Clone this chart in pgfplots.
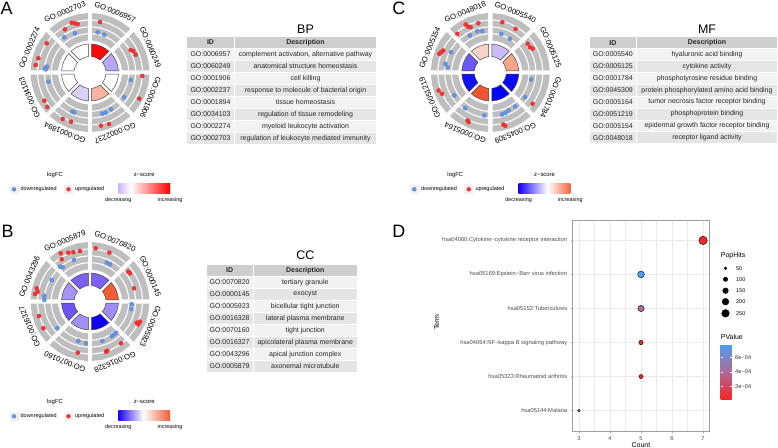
\documentclass[border=0pt]{standalone}
\usepackage{pgfplots}
\pgfplotsset{compat=1.18}
\usepackage{pgfplotstable}
\usepackage{fontspec}
\setmainfont{Liberation Sans}

\definecolor{upred}{HTML}{FF3030}
\definecolor{downblue}{HTML}{6495ED}
\definecolor{ringgray}{HTML}{BEBEBE}
\definecolor{hdr}{HTML}{CECECE}
\definecolor{rowA}{HTML}{F2F2F2}
\definecolor{rowB}{HTML}{E5E5E5}
\definecolor{keybg}{HTML}{F0F0F0}
\definecolor{gridc}{HTML}{EBEBEB}
\definecolor{framec}{HTML}{A0A0A0}
\definecolor{tickc}{HTML}{4D4D4D}
% z-score fills, segment by segment
\definecolor{zA0}{HTML}{F50A0A}
\definecolor{zA1}{HTML}{B9A4F6}
\definecolor{zA3}{HTML}{F8B4A0}
\definecolor{zA4}{HTML}{DBCEF8}
\definecolor{zB0}{HTML}{7B61F5}
\definecolor{zB1}{HTML}{F25C36}
\definecolor{zB2}{HTML}{A18CF7}
\definecolor{zB3}{HTML}{1000F2}
\definecolor{zB4}{HTML}{A38FF7}
\definecolor{zB5}{HTML}{6E53F3}
\definecolor{zB6}{HTML}{A693F7}
\definecolor{zB7}{HTML}{7B60F4}
\definecolor{zC0}{HTML}{CBB9F8}
\definecolor{zC1}{HTML}{F6A589}
\definecolor{zC2}{HTML}{0A0AF5}
\definecolor{zC3}{HTML}{0505F5}
\definecolor{zC4}{HTML}{F45430}
\definecolor{zC5}{HTML}{1010F5}
\definecolor{zC6}{HTML}{6C58F4}
\definecolor{zC7}{HTML}{F8D2C6}
\definecolor{zlav}{HTML}{C9B6F6}
\definecolor{zredA}{HTML}{FF0000}
\definecolor{zblue}{HTML}{1800FF}
\definecolor{zorB}{HTML}{F35B35}
\definecolor{zorC}{HTML}{F4643F}

\pgfdeclarehorizontalshading{zgradA}{100bp}{color(0bp)=(zlav); color(25bp)=(zlav); color(37bp)=(white); color(75bp)=(zredA); color(100bp)=(zredA)}
\pgfdeclarehorizontalshading{zgradB}{100bp}{color(0bp)=(zblue); color(25bp)=(zblue); color(49bp)=(white); color(75bp)=(zorB); color(100bp)=(zorB)}
\pgfdeclarehorizontalshading{zgradC}{100bp}{color(0bp)=(zblue); color(25bp)=(zblue); color(53bp)=(white); color(75bp)=(zorC); color(100bp)=(zorC)}

\newcommand\fs[1]{\fontsize{#1}{#1}\selectfont}

% outline of one ring piece: t runs along the arc, s across it
\pgfplotstableread{
t s
0 0
0 1
0.25 1
0.5 1
0.75 1
1 1
1 0
0.75 0
0.5 0
0.25 0
0 0
}\sectortab
\pgfplotstableread{
t s
0 0
0.25 0
0.5 0
0.75 0
1 0
}\arctab

% angles in degrees clockwise from the top, radii in bp
% #1 #2 angles, #3 #4 radii, #5 half gap, #6 style
\newcommand\sector[6]{%
  \addplot[#6] table[
    x expr={(#3+\thisrow{s}*(#4-#3))*sin(#1+\thisrow{t}*(#2-(#1))+(1-2*\thisrow{t})*asin(#5/(#3+\thisrow{s}*(#4-#3))))},
    y expr={(#3+\thisrow{s}*(#4-#3))*cos(#1+\thisrow{t}*(#2-(#1))+(1-2*\thisrow{t})*asin(#5/(#3+\thisrow{s}*(#4-#3))))}] {\sectortab};}
\newcommand\arcline[4]{%
  \addplot[draw=white, line width=1.1pt] table[
    x expr={#3*sin(#1+\thisrow{t}*(#2-(#1))+(1-2*\thisrow{t})*asin(#4/#3))},
    y expr={#3*cos(#1+\thisrow{t}*(#2-(#1))+(1-2*\thisrow{t})*asin(#4/#3))}] {\arctab};}
\newcommand\segment[3]{%
  \sector{#1}{#2}{32}{59.5}{2.2}{fill=ringgray, draw=none}
  \arcline{#1}{#2}{38.9}{2.2}
  \arcline{#1}{#2}{45.7}{2.2}
  \arcline{#1}{#2}{52.6}{2.2}
  \sector{#1}{#2}{16}{28.5}{1.6}{fill=#3, draw=black!75, line width=0.45pt}}
\newcommand\gosegments[8]{%
  \segment{0}{45}{#1}\segment{45}{90}{#2}\segment{90}{135}{#3}\segment{135}{180}{#4}
  \segment{180}{225}{#5}\segment{225}{270}{#6}\segment{270}{315}{#7}\segment{315}{360}{#8}}
% logFC points of one circle: #1 table, #2 style
\newcommand\ondots[2]{%
  \addplot[#2] table[x expr={\thisrow{r}*sin(\thisrow{a})}, y expr={\thisrow{r}*cos(\thisrow{a})}] {#1};}
% labels on a circle of radius 65.5 at the middle of each piece
\newcommand\golabels[8]{%
  \node[glab, rotate=-22.5] at (axis cs:25.07,60.51) {#1};
  \node[glab, rotate=-67.5] at (axis cs:60.51,25.07) {#2};
  \node[glab, rotate=-112.5] at (axis cs:60.51,-25.07) {#3};
  \node[glab, rotate=-157.5] at (axis cs:25.07,-60.51) {#4};
  \node[glab, rotate=157.5] at (axis cs:-25.07,-60.51) {#5};
  \node[glab, rotate=112.5] at (axis cs:-60.51,-25.07) {#6};
  \node[glab, rotate=67.5] at (axis cs:-60.51,25.07) {#7};
  \node[glab, rotate=22.5] at (axis cs:-25.07,60.51) {#8};}

% table: #1 left, #2 column split, #3 right, #4 top, #5 row height, #6 id/description rows
\newcommand\gotable[6]{%
  \filldraw[fill=hdr, draw=white, line width=0.9pt] (#1,#4) rectangle (#2,#4+#5);
  \filldraw[fill=hdr, draw=white, line width=0.9pt] (#2,#4) rectangle (#3,#4+#5);
  \node[font=\fs{7}\bfseries, text=black!85] at ({(#1+#2)/2},#4+#5/2) {ID};
  \node[font=\fs{7}\bfseries, text=black!85] at ({(#2+#3)/2},#4+#5/2) {Description};
  \foreach \id/\desc [count=\i] in {#6} {
    \ifodd\i \def\rc{rowA}\else\def\rc{rowB}\fi
    \filldraw[fill=\rc, draw=white, line width=0.9pt] (#1,{#4+\i*#5}) rectangle (#2,{#4+(\i+1)*#5});
    \filldraw[fill=\rc, draw=white, line width=0.9pt] (#2,{#4+\i*#5}) rectangle (#3,{#4+(\i+1)*#5});
    \node[font=\fs{7}, text=black!85] at ({(#1+#2)/2},{#4+(\i+0.5)*#5}) {\id};
    \node[font=\fs{7}, text=black!85] at ({(#2+#3)/2},{#4+(\i+0.5)*#5}) {\desc};
  }}
% legend under a circle: #1 x shift, #2 y shift, #3 shading
\newcommand\golegend[3]{%
  \begin{scope}[xshift=#1bp, yshift=-#2bp]
    \node[font=\fs{5.9}] at (55,175) {logFC};
    \fill[keybg] (9.5,185) rectangle (18.5,193.6);
    \fill[keybg] (64,185) rectangle (73,193.6);
    \node[font=\fs{5.5}, anchor=west] at (20.5,189.3) {downregulated};
    \node[font=\fs{5.5}, anchor=west] at (75,189.3) {upregulated};
    \node[font=\fs{5.9}] at (144.2,175) {z−score};
    \shade[shading=#3] (118.3,183.5) rectangle (170,194);
    \node[font=\fs{5.4}] at (118.3,200.3) {decreasing};
    \node[font=\fs{5.4}] at (170,200.3) {increasing};
  \end{scope}}

\tikzset{glab/.style={font=\fs{7.7}, inner sep=0pt}}
\pgfplotsset{
  updots/.style={only marks, mark=*, mark size=2.1, draw=upred!80!black, fill=upred, line width=0.2pt},
  downdots/.style={only marks, mark=*, mark size=2.1, draw=downblue!80!black, fill=downblue, line width=0.2pt},
  circ/.style={anchor=center, scale only axis, width=160bp, height=160bp,
    xmin=-80, xmax=80, ymin=-80, ymax=80, hide axis, clip=false},
}

% logFC points: angle clockwise from the top, radius
\pgfplotstableread{
a r
11.2 51.5
61.1 46.5
63.6 48.3
68.7 49
93.8 52.4
118 55.8
168.3 54.3
159.8 54.9
210.4 53.9
201.1 52.7
238.3 53.7
231.1 54.9
304 52.2
285.4 53.6
277.9 54.8
339.8 53
343 51.4
345.8 50
330 49.9
}\Aup
\pgfplotstableread{
a r
10.8 40.9
20.7 40.4
100.4 41.4
126.1 42.1
163.4 43
158.7 43.2
150.3 42.4
204.3 43
201.5 42.8
257.6 42.7
275.3 45.2
277.6 43.7
274 44.4
323.9 43.6
339 42
}\Adown
\pgfplotstableread{
a r
6.1 53.5
21.6 52.5
52.1 48.5
54.8 48.9
73.3 45.9
114.4 51.3
115.3 53.4
112 53.9
143.4 52
162.3 52.7
160.6 52.2
193.5 52.6
254.1 53
240.1 53.8
283.9 54.9
280.6 53.2
277.8 55.5
328.7 56.4
336 53.4
341.3 52
348.8 51.5
326.2 50.8
}\Bup
\pgfplotstableread{
a r
23.3 42.3
28.3 42.2
93.5 41.7
100.4 41.7
147.8 40.8
143.5 40.8
140.2 40.6
162.7 41.4
196.5 41.2
185.5 42
230.7 42.3
299.3 43.9
277.2 46
271.9 45.7
338.9 44.5
319.2 46
321.4 43.8
}\Bdown
\pgfplotstableread{
a r
332.8 54
334.1 51.1
336.5 49.4
346.3 50.7
319.5 50.9
13.4 51.7
30.1 50.5
52.4 47
57.5 47.1
60.7 48.5
126.5 52.6
166 53.6
164.3 55.4
205.3 53.1
203.6 54.2
250.8 54.7
246.2 52.8
290.1 54.3
292.4 53.3
295 51.9
}\Cup
\pgfplotstableread{
a r
331.2 42.2
342.5 43.3
349 42.1
15.9 40.2
30.3 39
99.8 41.3
125.4 42.6
164.4 43.6
159.8 43.4
154.3 42.2
143.7 42.2
215 43.6
188 43.4
237.4 42.7
297.3 44.2
280.9 45.8
277 43
}\Cdown

% KEGG terms, bottom to top
\pgfplotstableread{
row count hits p
6 7 294 2.9e-5
5 5 201 7.8e-4
4 5 180 4.4e-4
3 5 104 4.0e-5
2 5 91 6.0e-5
1 3 49 7.5e-4
}\kegg

\begin{document}
\begin{tikzpicture}
\useasboundingbox (0,0) rectangle (778bp,448bp);

\begin{scope}[x=1bp, y=-1bp, yshift=448bp, every node/.style={inner sep=0pt}]
  \node[font=\fs{18}] at (6.7,8.3) {A};
  \node[font=\fs{18}] at (7.5,231.7) {B};
  \node[font=\fs{18}] at (398.8,8.3) {C};
  \node[font=\fs{18}] at (398.8,231.7) {D};

  \node[font=\fs{12.5}] at (305.5,29) {BP};
  \gotable{186.7}{234.3}{376.7}{36.3}{12}{GO:0006957/{complement activation, alternative pathway}, GO:0060249/anatomical structure homeostasis, GO:0001906/cell killing, GO:0002237/response to molecule of bacterial origin, GO:0001894/tissue homeostasis, GO:0034103/regulation of tissue remodeling, GO:0002274/myeloid leukocyte activation, GO:0002703/regulation of leukocyte mediated immunity}
  \node[font=\fs{12.5}] at (305.3,255) {CC};
  \gotable{206}{253.3}{357.3}{264.3}{12}{GO:0070820/tertiary granule, GO:0000145/exocyst, GO:0005923/bicellular tight junction, GO:0016328/lateral plasma membrane, GO:0070160/tight junction, GO:0016327/apicolateral plasma membrane, GO:0043296/apical junction complex, GO:0005879/axonemal microtubule}
  \node[font=\fs{12.5}] at (707,29) {MF};
  \gotable{589}{636.7}{777.3}{36.7}{11.9}{GO:0005540/hyaluronic acid binding, GO:0005125/cytokine activity, GO:0001784/phosphotyrosine residue binding, GO:0045309/protein phosphorylated amino acid binding, GO:0005164/tumor necrosis factor receptor binding, GO:0051219/phosphoprotein binding, GO:0005154/epidermal growth factor receptor binding, GO:0048018/receptor ligand activity}

  \golegend{0}{0}{zgradA}
  \golegend{0}{227}{zgradB}
  \golegend{400.3}{0}{zgradC}

  \node[font=\fs{7}, rotate=90] at (436.7,322) {Term};
  \node[font=\fs{7}] at (641,445) {Count};
  \node[font=\fs{7}, anchor=west] at (720.7,255.7) {PopHits};
  \node[font=\fs{7}, anchor=west] at (720.7,337.3) {PValue};
  \node[font=\fs{5.5}, anchor=west] at (736,268.3) {50};
  \node[font=\fs{5.5}, anchor=west] at (736,279.3) {100};
  \node[font=\fs{5.5}, anchor=west] at (736,290.7) {150};
  \node[font=\fs{5.5}, anchor=west] at (736,301.7) {200};
  \node[font=\fs{5.5}, anchor=west] at (736,313.3) {250};
\end{scope}

% legend keys, in picture pixels
\begin{axis}[at={(0bp,0bp)}, anchor=south west, scale only axis, width=778bp, height=448bp,
  xmin=0, xmax=778, ymin=0, ymax=448, y dir=reverse, hide axis, clip=false]
  \addplot[downdots, mark size=2] coordinates {(14,189.3) (414.3,189.3) (14,416.3)};
  \addplot[updots, mark size=2] coordinates {(68.5,189.3) (468.8,189.3) (68.5,416.3)};
  \addplot[only marks, mark=*, black, mark size=1.35] coordinates {(725.5,268.3)};
  \addplot[only marks, mark=*, black, mark size=2.19] coordinates {(725.5,279.3)};
  \addplot[only marks, mark=*, black, mark size=2.83] coordinates {(725.5,290.7)};
  \addplot[only marks, mark=*, black, mark size=3.37] coordinates {(725.5,301.7)};
  \addplot[only marks, mark=*, black, mark size=3.85] coordinates {(725.5,313.3)};
\end{axis}

% A: BP
\begin{axis}[circ, at={(90bp,375.5bp)}]
  \gosegments{zA0}{zA1}{white}{zA3}{zA4}{white}{white}{white}
  \ondots{\Adown}{downdots}
  \ondots{\Aup}{updots}
  \golabels{GO:0006957}{GO:0060249}{GO:0001906}{GO:0002237}{GO:0001894}{GO:0034103}{GO:0002274}{GO:0002703}
\end{axis}

% B: CC
\begin{axis}[circ, at={(90bp,146.5bp)}]
  \gosegments{zB0}{zB1}{zB2}{zB3}{zB4}{zB5}{zB6}{zB7}
  \ondots{\Bdown}{downdots}
  \ondots{\Bup}{updots}
  \golabels{GO:0070820}{GO:0000145}{GO:0005923}{GO:0016328}{GO:0070160}{GO:0016327}{GO:0043296}{GO:0005879}
\end{axis}

% C: MF
\begin{axis}[circ, at={(490.3bp,375.5bp)}]
  \gosegments{zC0}{zC1}{zC2}{zC3}{zC4}{zC5}{zC6}{zC7}
  \ondots{\Cdown}{downdots}
  \ondots{\Cup}{updots}
  \golabels{GO:0005540}{GO:0005125}{GO:0001784}{GO:0045309}{GO:0005164}{GO:0051219}{GO:0005154}{GO:0048018}
\end{axis}

% D: KEGG dot plot
\begin{axis}[at={(572.7bp,17bp)}, anchor=south west, scale only axis, width=136.6bp, height=211bp,
  xmin=2.8, xmax=7.2, ymin=0.4, ymax=6.6,
  xtick={3,4,5,6,7}, xticklabels={3,4,5,6,7}, minor xtick={3.5,4.5,5.5,6.5},
  ytick={1,2,3,4,5,6},
  yticklabels={hsa05144:Malaria, hsa05323:Rheumatoid arthritis, hsa04064:NF−kappa B signaling pathway, hsa05152:Tuberculosis, hsa05169:Epstein−Barr virus infection, hsa04060:Cytokine−cytokine receptor interaction},
  xmajorgrids, xminorgrids, ymajorgrids,
  major grid style={draw=gridc, line width=0.55pt},
  minor grid style={draw=gridc, line width=0.3pt},
  axis line style={draw=framec, line width=0.5pt},
  xtick pos=lower, ytick pos=left, tick align=outside,
  major tick length=2bp, minor tick length=0bp,
  tick style={draw=framec, line width=0.4pt},
  ticklabel style={font=\fs{5.8}, text=tickc},
  colormap={pv}{rgb255=(244,37,37) rgb255=(174,106,152) rgb255=(74,158,242)},
  point meta min=2.9e-5, point meta max=7.8e-4,
  colorbar,
  colorbar style={at={(1.0835,0.4123)}, anchor=north west, scale only axis,
    width=11bp, height=55.3bp,
    ytick={2e-4,4e-4,6e-4}, yticklabels={2e−04,4e−04,6e−04}, scaled y ticks=false,
    yticklabel style={font=\fs{5.7}, text=black!80},
    axis line style={draw=none}, tick align=inside, major tick length=2.2bp,
    tick style={draw=white, line width=0.5pt}, yticklabel pos=right, ytick pos=both}]
  \addplot[scatter, only marks, mark=*, point meta=explicit,
    scatter/use mapped color={draw=none, fill=mapped color},
    visualization depends on={0.286*sqrt(\thisrow{hits})-0.67 \as \msz},
    scatter/@pre marker code/.append style={/tikz/mark size=\msz}]
    table[x=count, y=row, meta=p] {\kegg};
\end{axis}
\end{tikzpicture}
\end{document}
